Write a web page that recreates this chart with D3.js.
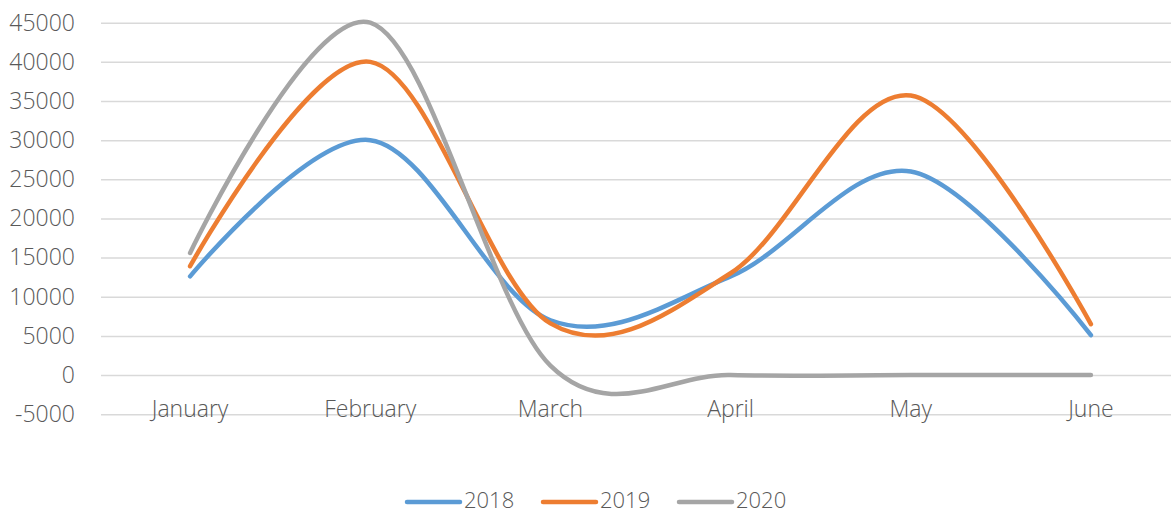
<!DOCTYPE html>
<html>
<head>
<meta charset="utf-8">
<script src="https://d3js.org/d3.v7.min.js"></script>
<style>
body { margin: 0; background: #fff; }
text { font-family: "Open Sans", sans-serif; font-weight: 300; fill: #595959; }
</style>
</head>
<body>
<div id="chart"></div>
<script>
var width = 1171;
var height = 514;

var months = ["January", "February", "March", "April", "May", "June"];
var years = ["2018", "2019", "2020"];
var v2018 = [12600, 30000, 7000, 12600, 26000, 5100];
var v2019 = [13900, 40000, 6600, 13000, 35700, 6500];
var v2020 = [15600, 45000, 1200, 0, 0, 0];
var yTicks = [-5000, 0, 5000, 10000, 15000, 20000, 25000, 30000, 35000, 40000, 45000];
var colors = ["#5B9BD5", "#ED7D31", "#A5A5A5"];

var series = [v2018, v2019, v2020];

var svg = d3.select("#chart")
    .append("svg")
    .attr("width", width)
    .attr("height", height);

var x = d3.scaleBand()
    .domain(months)
    .range([100, 1181]);

var y = d3.scaleLinear()
    .domain([-5000, 45000])
    .range([414.2, 22.7]);

// y axis + gridlines
var yAxis = svg.append("g")
    .attr("transform", "translate(101,0)")
    .call(d3.axisLeft(y)
      .tickValues(yTicks)
      .tickSizeInner(-1080)
      .tickSizeOuter(0)
      .tickPadding(26)
      .tickFormat(function(d) { return String(d); }));
yAxis.select(".domain").remove();
yAxis.selectAll("line")
    .attr("stroke", "#D9D9D9")
    .attr("stroke-width", 1.5);
yAxis.selectAll("text")
    .attr("font-size", 23)
    .attr("fill", "#595959");

// category labels
var xAxis = svg.append("g")
    .attr("transform", "translate(0,395)")
    .call(d3.axisBottom(x).tickSize(0).tickPadding(0));
xAxis.select(".domain").remove();
xAxis.selectAll("text")
    .attr("font-size", 23)
    .attr("dy", "0")
    .attr("y", 22)
    .attr("fill", "#595959");

var line = d3.line()
    .x(function(d, i) { return x(months[i]) + x.bandwidth() / 2; })
    .y(function(d) { return y(d); })
    .curve(d3.curveCatmullRom.alpha(0));

svg.append("g")
  .selectAll("path")
  .data(series)
  .enter().append("path")
    .attr("d", line)
    .attr("fill", "none")
    .attr("stroke", function(d, i) { return colors[i]; })
    .attr("stroke-width", 4.5)
    .attr("stroke-linecap", "round")
    .attr("stroke-linejoin", "round");

// legend
var legend = svg.append("g")
  .selectAll("g")
  .data(years)
  .enter().append("g")
    .attr("transform", function(d, i) { return "translate(" + (407 + i * 136) + ",502)"; });

legend.append("line")
    .attr("x1", 0)
    .attr("x2", 53)
    .attr("stroke", function(d, i) { return colors[i]; })
    .attr("stroke-width", 4.5)
    .attr("stroke-linecap", "round");

legend.append("text")
    .attr("x", 57)
    .attr("y", 6)
    .attr("font-size", 22)
    .text(function(d) { return d; });
</script>
</body>
</html>
